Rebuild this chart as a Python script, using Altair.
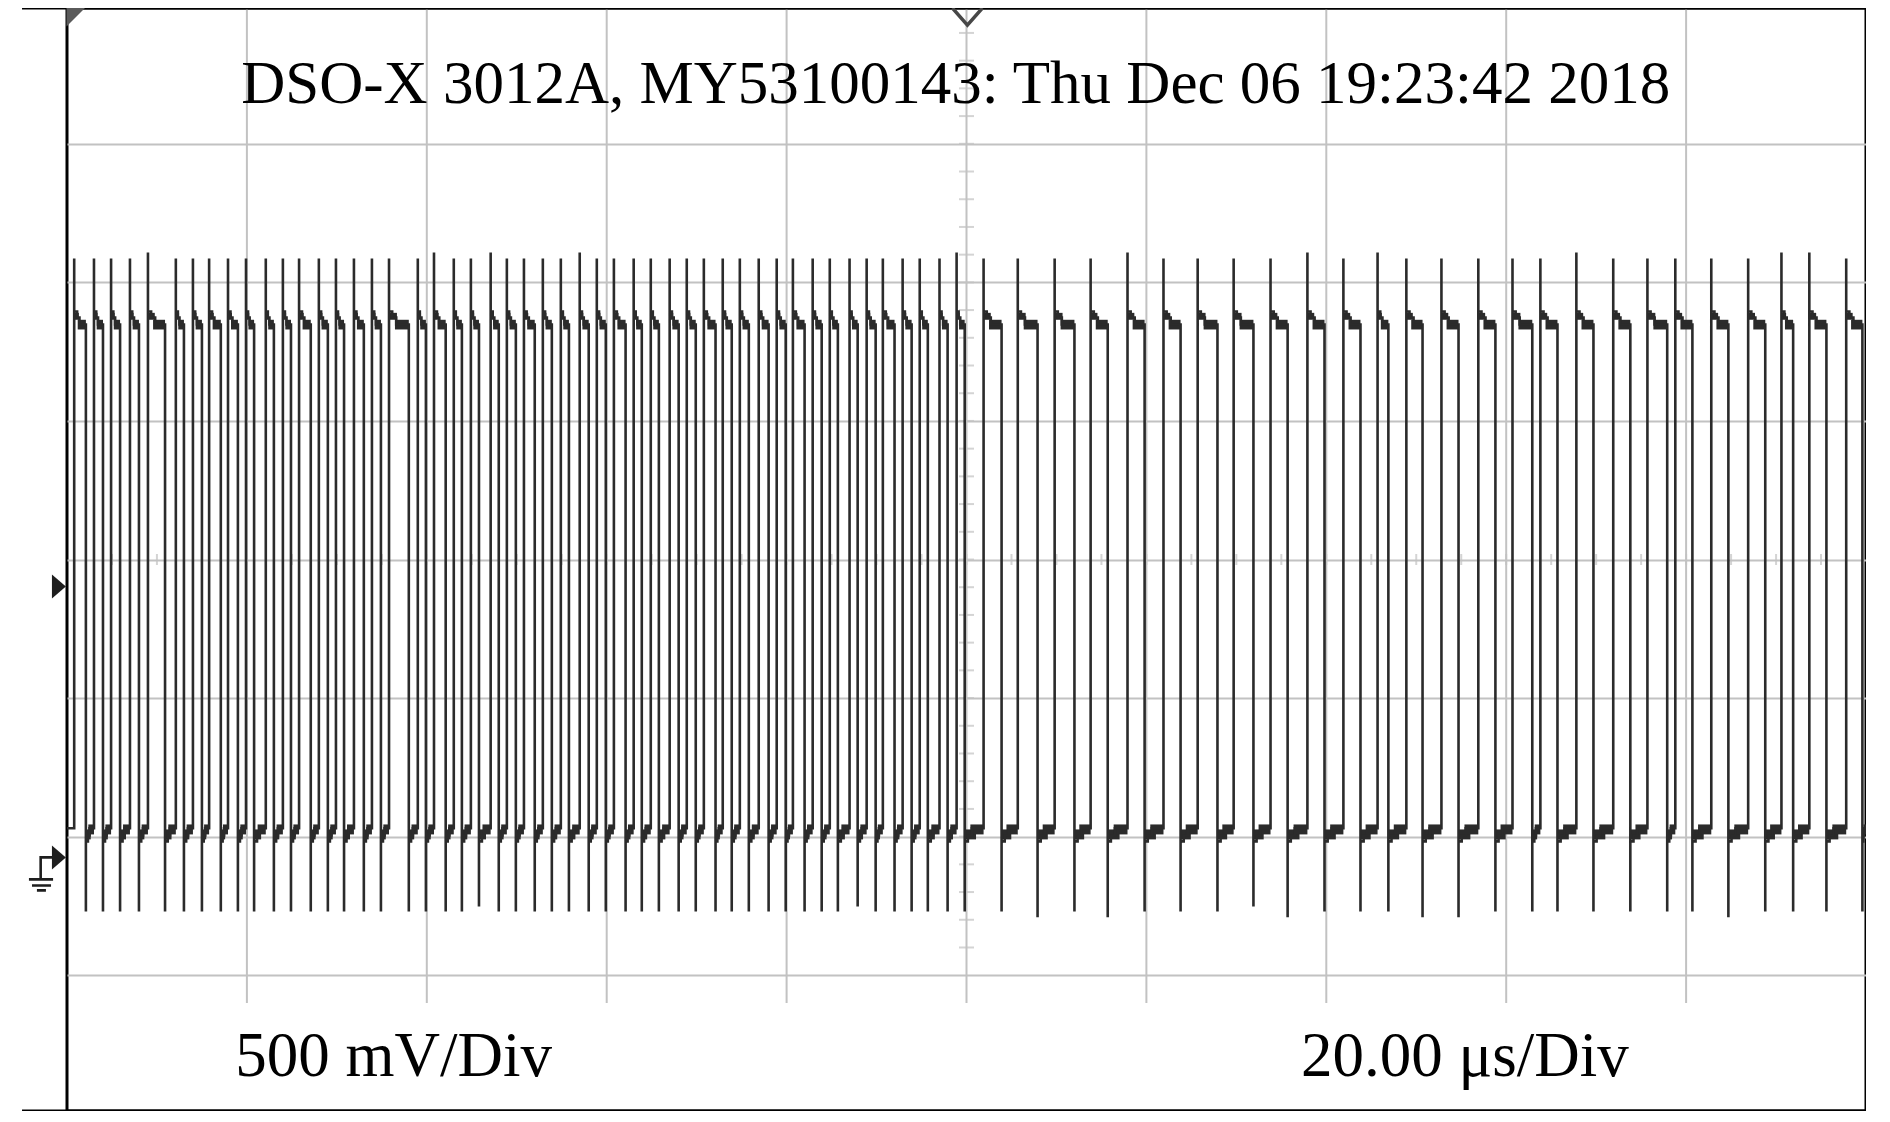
import altair as alt
import pandas as pd

# ---------------- data (time in microseconds, voltage in volts) ----------------
rise_us = [-99.2, -97.0, -95.1, -93.0, -91.0, -87.9, -86.0, -84.2, -82.1, -80.1,
           -77.9, -76.0, -74.2, -72.0, -70.1, -68.1, -66.1, -64.2, -61.0, -59.2,
           -57.0, -55.1, -52.9, -51.1, -49.2, -47.1, -45.1, -43.0, -41.1, -39.2,
           -37.0, -35.1, -33.0, -31.1, -29.2, -27.1, -25.2, -23.1, -21.1, -19.3,
           -17.1, -15.2, -13.0, -11.1, -9.3, -7.1, -5.2, -3.0, -1.1,
           1.9, 5.7, 9.8, 13.8, 17.9, 21.9, 25.7, 29.7, 33.8, 37.9,
           41.9, 45.7, 48.9, 52.8, 56.9, 60.7, 63.8, 67.8, 71.9, 75.7,
           78.8, 82.8, 86.9, 90.6, 93.7, 97.8]
fall_us = [-97.9, -96.0, -94.1, -92.0, -89.1, -87.0, -85.0, -82.9, -81.0, -79.2,
           -77.0, -75.1, -72.9, -71.0, -69.2, -67.0, -65.1, -62.0, -60.1, -57.9,
           -56.1, -54.2, -52.0, -50.1, -48.0, -46.1, -44.2, -42.0, -40.1, -37.9,
           -36.1, -34.2, -32.0, -30.1, -27.9, -26.1, -24.2, -22.0, -20.1, -18.0,
           -16.1, -14.3, -12.1, -10.1, -8.0, -6.1, -4.3, -2.1, -0.2,
           3.9, 7.9, 12.0, 15.7, 19.8, 23.8, 27.9, 31.9, 35.7, 39.8,
           43.8, 46.9, 50.7, 54.7, 58.8, 62.9, 65.7, 69.7, 73.8, 77.9,
           80.7, 84.7, 88.8, 91.9, 95.6, 99.6]
tall_spike_rises = [-91.0, -59.2, -52.9, -43.0, -1.1, 17.9, 37.9, 45.7, 67.8, 90.6, 93.7]
deep_dip_falls = [7.9, 15.7, 35.7, 50.7, 54.7, 84.7]
shallow_dip_falls = [-54.2, -12.1, 31.9]

spike_v = 2.161
spike_tall_v = 2.183
high_v = [1.970, 1.948, 1.923]
high_band_v = [1.905, 1.940, 1.965]
dip_v = -0.195
dip_deep_v = -0.216
dip_shallow_v = -0.177
low_v = [0.058, 0.079, 0.105]
low_band_v = [0.065, 0.101, 0.083, 0.119]

t_domain = [-100, 100]
v_center = 1.075
v_domain = [-0.915, 3.065]
grid_t = [-80, -60, -40, -20, 0, 20, 40, 60, 80]
grid_v = [-0.425, 0.075, 0.575, 1.075, 1.575, 2.075, 2.575]
grid_v_end = -0.525
frame_t_start = -105.0
minor_t = [k * 5 for k in range(-19, 20)]
minor_v = [round(v_center + k * 0.1, 3) for k in range(-14, 20)]

title_text = "DSO-X 3012A, MY53100143: Thu Dec 06 19:23:42 2018"
vdiv_text = "500 mV/Div"
tdiv_text = "20.00 μs/Div"

# ---------------- build trace ----------------
pts = []


def add(t, v):
    pts.append({"t": t, "v": v, "i": len(pts)})


hi_rects = []
lo_rects = []
add(t_domain[0], low_v[2])
n = len(rise_us)
for k in range(n):
    tr, tf = rise_us[k], fall_us[k]
    nxt = rise_us[k + 1] if k + 1 < n else t_domain[1]
    top = spike_tall_v if tr in tall_spike_rises else spike_v
    bot = dip_deep_v if tf in deep_dip_falls else (dip_shallow_v if tf in shallow_dip_falls else dip_v)
    hi = tf - tr
    s1, s2 = min(0.35, hi * 0.25), min(0.8, hi * 0.45)
    add(tr, low_v[2]); add(tr, top); add(tr, high_v[0]); add(tr + s1, high_v[0])
    add(tr + s1, high_v[1]); add(tr + s2, high_v[1]); add(tr + s2, high_v[2]); add(tf, high_v[2])
    add(tf, bot); add(tf, low_v[0])
    lo = nxt - tf
    d1, d2 = min(0.35, lo * 0.25), min(0.8, lo * 0.45)
    add(tf + d1, low_v[0]); add(tf + d1, low_v[1]); add(tf + d2, low_v[1]); add(tf + d2, low_v[2])
    add(nxt, low_v[2])
    hi_rects.append({"a": tr, "b": tr + hi * 0.4, "y1": high_band_v[1], "y2": high_band_v[2]})
    hi_rects.append({"a": tr + hi * 0.3, "b": tf, "y1": high_band_v[0], "y2": high_band_v[1]})
    lo_rects.append({"a": tf, "b": tf + lo * 0.6, "y1": low_band_v[0], "y2": low_band_v[1]})
    lo_rects.append({"a": tf + lo * 0.3, "b": nxt, "y1": low_band_v[2], "y2": low_band_v[3]})

trace = pd.DataFrame(pts)
bands = pd.DataFrame(hi_rects + lo_rects)

TRACE = "#2b2b2b"
GRID = "#c2c2c2"

xs = alt.Scale(domain=t_domain, nice=False, zero=False)
ys = alt.Scale(domain=v_domain, nice=False, zero=False)
ya = alt.Axis(values=grid_v, grid=True, gridColor=GRID, gridWidth=2, labels=False,
              ticks=False, domain=False, title=None)


def X(f):
    return alt.X(f, type="quantitative", scale=xs, axis=None)


def Y(f):
    return alt.Y(f, type="quantitative", scale=ys, axis=ya)


vgrid = alt.Chart(pd.DataFrame({"t": grid_t, "top": [v_domain[1]] * len(grid_t),
                                "bot": [grid_v_end] * len(grid_t)})).mark_rule(
    color=GRID, strokeWidth=2).encode(x=X("t"), y=Y("top"), y2="bot")

ticks_h = alt.Chart(pd.DataFrame({"t": minor_t, "v": [v_center] * len(minor_t)})).mark_tick(
    orient="vertical", color=GRID, thickness=2, size=11).encode(x=X("t"), y=Y("v"))
ticks_v = alt.Chart(pd.DataFrame({"t": [0.0] * len(minor_v), "v": minor_v})).mark_tick(
    orient="horizontal", color=GRID, thickness=2, size=15).encode(x=X("t"), y=Y("v"))

band_layer = alt.Chart(bands).mark_rect(color=TRACE).encode(
    x=X("a"), x2="b", y=Y("y1"), y2="y2")
line_layer = alt.Chart(trace).mark_line(color=TRACE, strokeWidth=2.6, interpolate="linear").encode(
    x=X("t"), y=Y("v"), order="i:Q")

frame = alt.Chart(pd.DataFrame({"a": [frame_t_start] * 2, "b": [t_domain[1]] * 2,
                                "v": v_domain})).mark_rule(color="black", strokeWidth=3).encode(
    x=X("a"), x2="b", y=Y("v"))

corner = alt.Chart(pd.DataFrame({"t": [-99.0], "v": [3.0325]})).mark_point(
    shape="M-1,-1 L1,-1 L-1,1 Z", filled=True, color="#5a5a5a", size=360, opacity=1).encode(
    x=X("t"), y=Y("v"))
trig = alt.Chart(pd.DataFrame({"t": [0.1], "v": [3.034]})).mark_point(
    shape="M-1,-0.57 L0,0.57 L1,-0.57", filled=False, color="#474747", strokeWidth=3.5,
    size=900, opacity=1).encode(x=X("t"), y=Y("v"))
chan = alt.Chart(pd.DataFrame({"t": [-100.9, -100.9], "v": [0.978, 0.0]})).mark_point(
    shape="M-0.58,-1 L0.58,0 L-0.58,1 Z", filled=True, color="#1e1e1e", size=576,
    opacity=1).encode(x=X("t"), y=Y("v"))
gnd = alt.Chart(pd.DataFrame({"t": [-102.89], "v": [-0.0595]})).mark_point(
    shape="M0.65,-0.97 L-0.02,-0.97 L-0.02,0.32 M-0.71,0.32 L0.71,0.32 M-0.53,0.68 L0.59,0.68 M-0.24,0.97 L0.29,0.97",
    filled=False, color="#1e1e1e", strokeWidth=2.6, size=1156, opacity=1).encode(x=X("t"), y=Y("v"))

title_layer = alt.Chart(pd.DataFrame({"t": [-1.2], "v": [2.721], "s": [title_text]})).mark_text(
    font="Liberation Serif", fontSize=61, color="black", align="center",
    baseline="alphabetic").encode(x=X("t"), y=Y("v"), text="s:N")
div_layer = alt.Chart(pd.DataFrame({"t": [-63.7, 55.4], "v": [-0.788, -0.788],
                                    "s": [vdiv_text, tdiv_text]})).mark_text(
    font="Liberation Serif", fontSize=63, color="black", align="center",
    baseline="alphabetic").encode(x=X("t"), y=Y("v"), text="s:N")

chart = alt.layer(vgrid, ticks_h, ticks_v, band_layer, line_layer, frame, corner, trig, chan, gnd,
                  title_layer, div_layer).properties(
    width=1799, height=1103,
    padding={"left": 59, "top": 0, "right": 0, "bottom": 0},
    autosize=alt.AutoSizeParams(type="none"),
).configure_view(stroke="black", strokeWidth=3)

chart.save("out.html", embed_options={"renderer": "svg", "actions": False})
